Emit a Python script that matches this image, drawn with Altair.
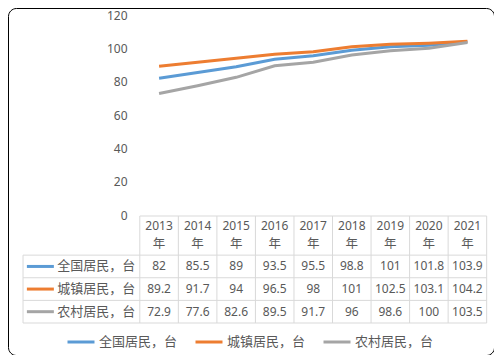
import altair as alt
import pandas as pd

# ---------------- data ----------------
years = ["2013", "2014", "2015", "2016", "2017", "2018", "2019", "2020", "2021"]
year_suffix = "年"
series = ["全国居民，台", "城镇居民，台", "农村居民，台"]
national = [82, 85.5, 89, 93.5, 95.5, 98.8, 101, 101.8, 103.9]
urban = [89.2, 91.7, 94, 96.5, 98, 101, 102.5, 103.1, 104.2]
rural = [72.9, 77.6, 82.6, 89.5, 91.7, 96, 98.6, 100, 103.5]
y_ticks = [0, 20, 40, 60, 80, 100, 120]

# ---------------- styles / layout ----------------
colors = ["#5B9BD5", "#ED7D31", "#A5A5A5"]
text_color = "#595959"
grid_color = "#D9D9D9"
num_font = "Noto Sans, Noto Sans CJK SC"
cjk_font = "Noto Sans CJK SC"
W, H = 486, 347
HEADER_H = 1.73          # header height in table-row units
LABEL_W = 3.03           # label column width in column units
n_years = len(years)
n_series = len(series)
TOTAL = HEADER_H + n_series
left_edge = -0.5 - LABEL_W

values = [national, urban, rural]
rows = []
for k, (s, vals) in enumerate(zip(series, values)):
    for i, (yr, v) in enumerate(zip(years, vals)):
        rows.append({"idx": i, "year": yr, "series": s, "value": v,
                     "row": HEADER_H + 0.5 + k})
df = pd.DataFrame(rows)

hdr = pd.DataFrame({"idx": list(range(n_years)), "year": years,
                    "suffix": [year_suffix] * n_years,
                    "y1": [0.44] * n_years, "y2": [1.24] * n_years})

lab = pd.DataFrame({"series": series,
                    "row": [HEADER_H + 0.5 + k for k in range(n_series)],
                    "sx": [left_edge + 0.1] * n_series,
                    "sx2": [left_edge + 0.8] * n_series,
                    "tx": [left_edge + 0.89] * n_series})

grid = []
for b in range(n_years + 1):
    grid.append({"x": b - 0.5, "x2": b - 0.5, "y": 0, "y2": TOTAL})
grid.append({"x": left_edge, "x2": left_edge, "y": HEADER_H, "y2": TOTAL})
grid.append({"x": -0.5, "x2": n_years - 0.5, "y": 0, "y2": 0})
for k in range(n_series + 1):
    yv = HEADER_H + k
    grid.append({"x": left_edge, "x2": n_years - 0.5, "y": yv, "y2": yv})
grid = pd.DataFrame(grid)

x_scale = alt.Scale(domain=[-3.92, 8.69], nice=False, zero=False)
t_scale = alt.Scale(domain=[0, TOTAL], range=[208, 315], nice=False, zero=False)
color_scale = alt.Scale(domain=series, range=colors)

lines = alt.Chart(df).mark_line(strokeWidth=3).encode(
    x=alt.X("idx:Q", scale=x_scale, axis=None),
    y=alt.Y("value:Q",
            scale=alt.Scale(domain=[0, 120], range=[207, 7], nice=False, zero=False),
            axis=alt.Axis(values=y_ticks, offset=-132, labelPadding=13,
                          domain=False, ticks=False, grid=False, title=None,
                          labelFontSize=12, labelColor=text_color, labelFont=num_font)),
    color=alt.Color("series:N", scale=color_scale,
                    legend=alt.Legend(orient="none", legendX=58, legendY=319,
                                      direction="horizontal", title=None,
                                      symbolType="stroke", symbolSize=729,
                                      symbolStrokeWidth=3, labelFontSize=13,
                                      labelColor=text_color, labelFont=cjk_font,
                                      columnPadding=11, labelOffset=3, padding=0)),
)

grid_layer = alt.Chart(grid).mark_rule(color=grid_color, strokeWidth=1).encode(
    x=alt.X("x:Q", scale=x_scale, axis=None),
    x2="x2:Q",
    y=alt.Y("y:Q", scale=t_scale, axis=None),
    y2="y2:Q",
)

hdr_year = alt.Chart(hdr).mark_text(fontSize=12, color=text_color, font=num_font,
                                    baseline="middle").encode(
    x=alt.X("idx:Q", scale=x_scale, axis=None),
    y=alt.Y("y1:Q", scale=t_scale, axis=None),
    text="year:N",
)
hdr_suffix = alt.Chart(hdr).mark_text(fontSize=12.5, color=text_color, font=cjk_font,
                                      baseline="middle").encode(
    x=alt.X("idx:Q", scale=x_scale, axis=None),
    y=alt.Y("y2:Q", scale=t_scale, axis=None),
    text="suffix:N",
)

cells = alt.Chart(df).mark_text(fontSize=12, color=text_color, font=num_font,
                                baseline="middle").encode(
    x=alt.X("idx:Q", scale=x_scale, axis=None),
    y=alt.Y("row:Q", scale=t_scale, axis=None),
    text=alt.Text("value:Q", format=".1~f"),
)

swatch = alt.Chart(lab).mark_rule(strokeWidth=3).encode(
    x=alt.X("sx:Q", scale=x_scale, axis=None),
    x2="sx2:Q",
    y=alt.Y("row:Q", scale=t_scale, axis=None),
    color=alt.Color("series:N", scale=color_scale, legend=None),
)

row_text = alt.Chart(lab).mark_text(fontSize=13, color=text_color, font=cjk_font,
                                    baseline="middle", align="left").encode(
    x=alt.X("tx:Q", scale=x_scale, axis=None),
    y=alt.Y("row:Q", scale=t_scale, axis=None),
    text="series:N",
)

chart = alt.layer(grid_layer, lines, hdr_year, hdr_suffix, cells, swatch, row_text).resolve_scale(
    y="independent"
).properties(
    width=W, height=H, autosize=alt.AutoSizeParams(type="none"), padding=0
).configure_view(
    stroke="#000000", strokeWidth=1, cornerRadius=8
)

chart.save("out.html", embed_options={"renderer": "svg", "actions": False})
